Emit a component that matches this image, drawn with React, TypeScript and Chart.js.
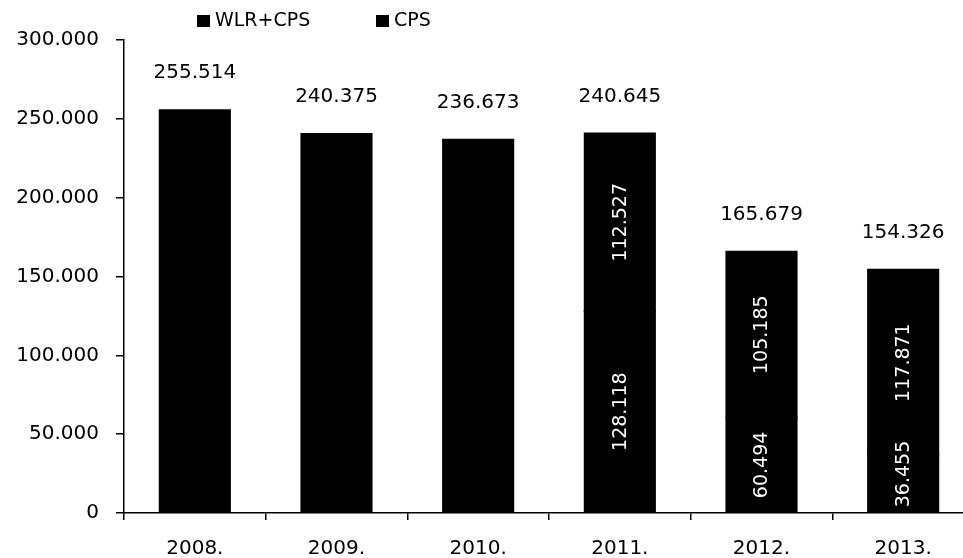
import React, { useEffect, useRef } from "react";
import { Chart, registerables } from "chart.js";

Chart.register(...registerables);

const CATEGORIES = ["2008.", "2009.", "2010.", "2011.", "2012.", "2013."];
const WLR_CPS = [null, null, null, 128118, 60494, 36455];
const CPS = [null, null, null, 112527, 105185, 117871];
const TOTAL_ONLY = [255514, 240375, 236673, null, null, null];
const TOTALS = [255514, 240375, 236673, 240645, 165679, 154326];
const LEGEND = ["WLR+CPS", "CPS"];
const Y_MIN = 0;
const Y_MAX = 300000;
const Y_STEP = 50000;

const FONT = "DejaVu Sans";

function fmt(v: number): string {
  if (v === 0) return "0";
  const s = Math.round(v).toString();
  return s.replace(/\B(?=(\d{3})+(?!\d))/g, ".");
}

const labelPlugin = {
  id: "labels",
  afterDatasetsDraw(chart: any) {
    const ctx = chart.ctx;
    const xs = chart.scales.x;
    const ys = chart.scales.y;
    ctx.save();
    ctx.fillStyle = "#000";
    ctx.font = `20px "${FONT}"`;
    ctx.textAlign = "center";
    ctx.textBaseline = "middle";
    TOTALS.forEach((t, i) => {
      const x = xs.getPixelForValue(i);
      const y = ys.getPixelForValue(t);
      ctx.fillText(fmt(t), x, y - 37);
    });
    ctx.font = `19px "${FONT}"`;
    ctx.fillStyle = "#fff";
    [0, 1].forEach((di) => {
      const meta = chart.getDatasetMeta(di);
      const data = chart.data.datasets[di].data;
      meta.data.forEach((bar: any, i: number) => {
        const v = data[i];
        if (v == null) return;
        const txt = fmt(v);
        const w = ctx.measureText(txt).width;
        const top = Math.min(bar.y, bar.base);
        const bottom = Math.max(bar.y, bar.base);
        let cy = (top + bottom) / 2;
        if (w + 10 > bottom - top) cy = bottom - 5 - w / 2;
        ctx.save();
        ctx.translate(bar.x, cy);
        ctx.rotate(-Math.PI / 2);
        ctx.fillText(txt, 0, 1);
        ctx.restore();
      });
    });
    ctx.restore();
  },
  afterDraw(chart: any) {
    const ctx = chart.ctx;
    ctx.save();
    ctx.fillStyle = "#000";
    ctx.font = `19px "${FONT}"`;
    ctx.textAlign = "left";
    ctx.textBaseline = "middle";
    const items = [
      { x: 197, label: LEGEND[0] },
      { x: 376, label: LEGEND[1] },
    ];
    items.forEach((it) => {
      ctx.fillRect(it.x, 15, 13, 12);
      ctx.fillText(it.label, it.x + 18, 21);
    });
    ctx.restore();
  },
};

export default function App() {
  const ref = useRef<HTMLCanvasElement | null>(null);
  useEffect(() => {
    if (!ref.current) return;
    const chart = new Chart(ref.current, {
      type: "bar",
      data: {
        labels: CATEGORIES,
        datasets: [
          { label: LEGEND[0], data: WLR_CPS, backgroundColor: "#000", stack: "s", borderWidth: 0, inflateAmount: 1 },
          { label: LEGEND[1], data: CPS, backgroundColor: "#000", stack: "s", borderWidth: 0, inflateAmount: 1 },
          { label: "total", data: TOTAL_ONLY, backgroundColor: "#000", stack: "s", borderWidth: 0, inflateAmount: 1 },
        ],
      },
      options: {
        animation: false,
        responsive: false,
        devicePixelRatio: 1,
        layout: { padding: { left: 0, right: 8, top: 40, bottom: 0 } },
        datasets: { bar: { categoryPercentage: 1, barPercentage: 0.495 } },
        plugins: { legend: { display: false }, tooltip: { enabled: false } },
        scales: {
          x: {
            stacked: true,
            grid: {
              offset: true,
              drawOnChartArea: false,
              drawTicks: true,
              tickLength: 7,
              color: "#000",
              lineWidth: 1.5,
            },
            border: { display: true, color: "#000", width: 1.5 },
            ticks: { color: "#000", font: { family: FONT, size: 20 }, padding: 17, maxRotation: 0 },
            afterFit: (s: any) => {
              s.height = 45;
            },
          },
          y: {
            stacked: true,
            min: Y_MIN,
            max: Y_MAX,
            ticks: {
              stepSize: Y_STEP,
              color: "#000",
              font: { family: FONT, size: 20 },
              padding: 17,
              callback: (v: any) => fmt(Number(v)),
            },
            grid: {
              drawOnChartArea: false,
              drawTicks: true,
              tickLength: 8,
              color: "#000",
              lineWidth: 1.5,
            },
            border: { display: true, color: "#000", width: 1.5 },
            afterFit: (s: any) => {
              s.width = 124;
            },
          },
        },
      },
      plugins: [labelPlugin],
    });
    return () => chart.destroy();
  }, []);
  return (
    <div
      style={{
        position: "fixed",
        left: 0,
        top: 0,
        width: 963,
        height: 558,
        overflow: "hidden",
        background: "#fff",
      }}
    >
      <canvas ref={ref} width={982} height={558} style={{ width: 982, height: 558, display: "block" }} />
    </div>
  );
}
